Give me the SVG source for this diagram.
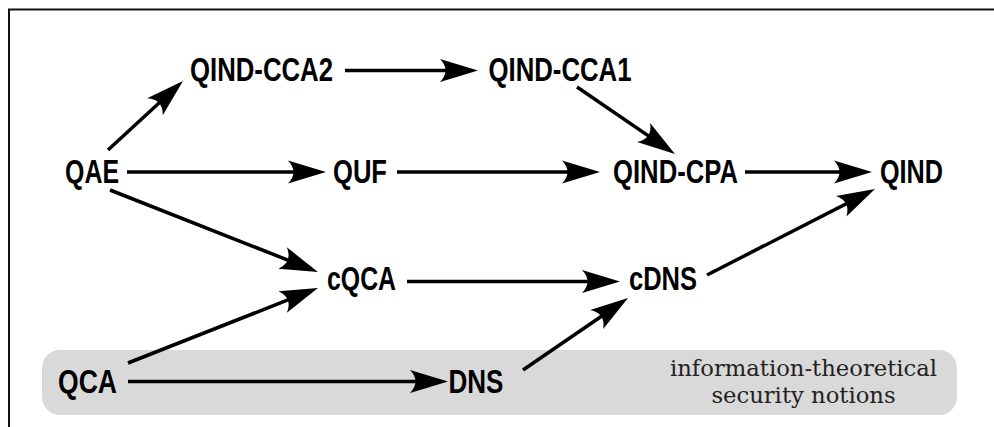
<svg xmlns="http://www.w3.org/2000/svg" width="994" height="427" viewBox="0 0 994 427">
<style>
.lbl{font-family:"Liberation Sans",Arial,sans-serif;font-weight:bold;font-size:33px;fill:#000;text-anchor:middle}
.info{font-family:"DejaVu Serif","Liberation Serif",serif;font-size:22.7px;fill:#222;text-anchor:middle}
.edge{stroke:#000;stroke-width:3.5;fill:none;marker-end:url(#ah)}
</style>
<defs>
<marker id="ah" markerUnits="userSpaceOnUse" markerWidth="44" markerHeight="26" viewBox="-32 -13 44 26" refX="0" refY="0" orient="auto" overflow="visible">
<path d="M10,0 L-28,-11.5 Q-17,0 -28,11.5 Z" fill="#000"/>
</marker>
</defs>
<rect x="0" y="0" width="994" height="427" fill="#fff"/>
<path d="M9,430 V9.5 H1000" fill="none" stroke="#111" stroke-width="2"/>
<rect x="42" y="350" width="915" height="65" rx="18" ry="18" fill="#d9d9d9"/>
<g id="connectors">
<line class="edge" x1="108" y1="150" x2="175.6" y2="87.8"/>
<line class="edge" x1="345" y1="70.5" x2="468" y2="70.5"/>
<line class="edge" x1="577" y1="87" x2="666.7" y2="148.4"/>
<line class="edge" x1="127" y1="172" x2="316" y2="172"/>
<line class="edge" x1="397" y1="172" x2="590" y2="172"/>
<line class="edge" x1="745" y1="172" x2="862" y2="172"/>
<line class="edge" x1="707" y1="275" x2="866.1" y2="193.6"/>
<line class="edge" x1="110" y1="190" x2="308.7" y2="268.3"/>
<line class="edge" x1="128" y1="363" x2="308.7" y2="291.7"/>
<line class="edge" x1="407" y1="281.5" x2="610" y2="281.5"/>
<line class="edge" x1="128" y1="381.5" x2="438" y2="381.5"/>
<line class="edge" x1="523" y1="370" x2="619.8" y2="303.7"/>
</g>
<g id="QAE"><text class="lbl" x="92" y="183" textLength="54" lengthAdjust="spacingAndGlyphs">QAE</text></g>
<g id="QIND-CCA2"><text class="lbl" x="261.5" y="81" textLength="143" lengthAdjust="spacingAndGlyphs">QIND-CCA2</text></g>
<g id="QIND-CCA1"><text class="lbl" x="560" y="81" textLength="143" lengthAdjust="spacingAndGlyphs">QIND-CCA1</text></g>
<g id="QUF"><text class="lbl" x="360" y="183" textLength="54" lengthAdjust="spacingAndGlyphs">QUF</text></g>
<g id="QIND-CPA"><text class="lbl" x="675.5" y="183" textLength="125" lengthAdjust="spacingAndGlyphs">QIND-CPA</text></g>
<g id="QIND"><text class="lbl" x="911.5" y="183" textLength="63" lengthAdjust="spacingAndGlyphs">QIND</text></g>
<g id="cQCA"><text class="lbl" x="361.5" y="290" textLength="69" lengthAdjust="spacingAndGlyphs">cQCA</text></g>
<g id="cDNS"><text class="lbl" x="663" y="290" textLength="68" lengthAdjust="spacingAndGlyphs">cDNS</text></g>
<g id="QCA"><text class="lbl" x="87.5" y="393" textLength="59" lengthAdjust="spacingAndGlyphs">QCA</text></g>
<g id="DNS"><text class="lbl" x="476" y="393" textLength="55" lengthAdjust="spacingAndGlyphs">DNS</text></g>
<g id="info"><text class="info" x="803.5" y="376">information-theoretical</text><text class="info" x="803.5" y="403">security notions</text></g>
</svg>
